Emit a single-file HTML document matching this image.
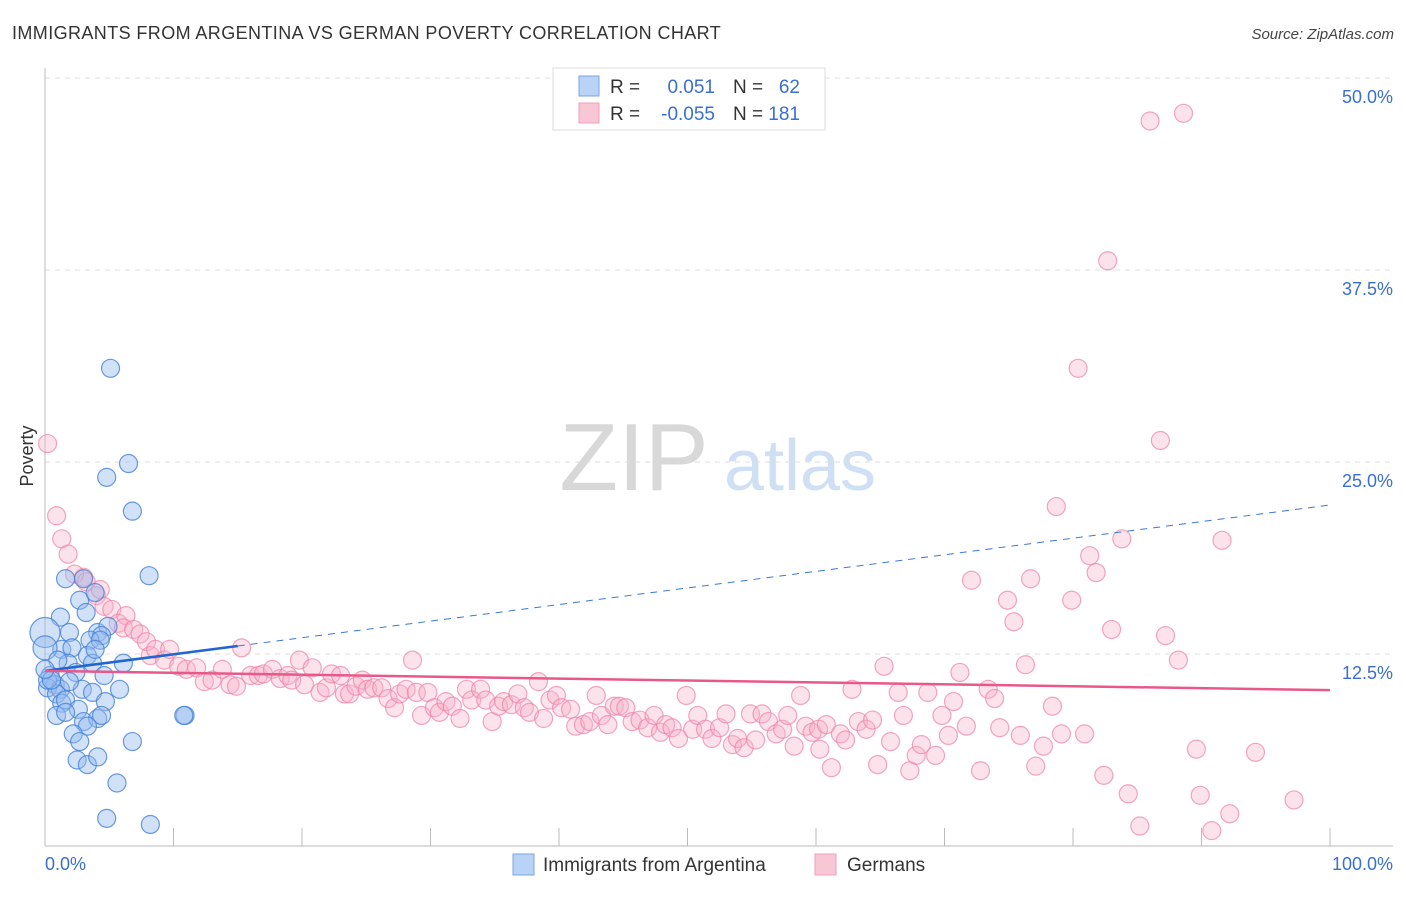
<!DOCTYPE html>
<html><head><meta charset="utf-8"><style>
body{margin:0;background:#fff;font-family:"Liberation Sans",sans-serif;}
svg text{font-family:"Liberation Sans",sans-serif;}
</style></head><body>
<svg id="chart" width="1406" height="892" xmlns="http://www.w3.org/2000/svg">
<text x="12" y="39" font-size="18" fill="#333" letter-spacing="0.4">IMMIGRANTS FROM ARGENTINA VS GERMAN POVERTY CORRELATION CHART</text>
<text x="1394" y="39" font-size="15" fill="#444" text-anchor="end" font-style="italic">Source: ZipAtlas.com</text>
<g>
<text x="634" y="490" font-size="96" fill="#d8d8d8" text-anchor="middle" font-family="Liberation Serif, serif">ZIP</text>
<text x="800" y="490" font-size="72" fill="#cfe0f5" text-anchor="middle">atlas</text>
</g>
<g id="grid"></g>
<g id="axes"></g>
<g id="marks"></g>
<g id="trends"></g>
<text transform="translate(33,456) rotate(-90)" font-size="18" fill="#333" text-anchor="middle">Poverty</text>
<g>
<rect x="553" y="68" width="272" height="62" fill="#fff" stroke="#ddd"/>
<rect x="579" y="76" width="20" height="20" fill="#b8d3f5" stroke="#7aa5e0"/>
<rect x="579" y="103" width="20" height="20" fill="#f9c6d5" stroke="#eea0b8"/>
<text x="610" y="93" font-size="19" fill="#333">R =</text>
<text x="715" y="93" font-size="19" fill="#3a6fd0" text-anchor="end">0.051</text>
<text x="733" y="93" font-size="19" fill="#333">N =</text>
<text x="800" y="93" font-size="19" fill="#3a6fd0" text-anchor="end">62</text>
<text x="610" y="120" font-size="19" fill="#333">R =</text>
<text x="715" y="120" font-size="19" fill="#3a6fd0" text-anchor="end">-0.055</text>
<text x="733" y="120" font-size="19" fill="#333">N =</text>
<text x="800" y="120" font-size="19" fill="#3a6fd0" text-anchor="end">181</text>
</g>
<g>
<rect x="513" y="854" width="21" height="21" fill="#b8d3f5" stroke="#7aa5e0"/>
<text x="543" y="871" font-size="19" fill="#333">Immigrants from Argentina</text>
<rect x="815" y="854" width="21" height="21" fill="#f9c6d5" stroke="#eea0b8"/>
<text x="847" y="871" font-size="19" fill="#333">Germans</text>
</g>
</svg>
<script>
const yTicks=[12.5,25,37.5,50];
const yTickLabels=["12.5%","25.0%","37.5%","50.0%"];
const xTicks=[0,10,20,30,40,50,60,70,80,90,100];
const xTickLabels=["0.0%","100.0%"];
const blueX=[5.1,6.5,4.8,6.8,8.1,1.6,3.0,1.2,2.7,3.9,3.2,1.9,4.1,4.9,4.4,3.5,1.3,2.1,0,0,3.3,1.8,3.7,2.4,6.1,4.6,0.4,0.8,0.2,1.2,0.9,2.9,3.7,1.3,1.6,2.6,4.7,0.9,1.6,3.0,4.1,4.4,3.3,2.2,2.7,6.8,2.5,3.3,4.1,5.6,4.8,8.2,10.9,10.8,0.2,0.5,1.0,1.9,0,4.3,3.9,5.8];
const blueY=[31.1,24.9,24.0,21.8,17.6,17.4,17.4,14.9,16.0,16.5,15.2,13.9,13.9,14.3,13.7,13.4,12.8,12.9,13.9,12.9,12.4,11.9,11.9,11.3,11.9,11.1,11.1,10.5,10.3,10.2,9.9,10.2,10.0,9.3,9.5,8.9,9.4,8.5,8.7,8.1,8.3,8.5,7.8,7.3,6.8,6.8,5.6,5.3,5.8,4.1,1.8,1.4,8.5,8.5,10.8,10.8,12.1,10.7,11.5,13.4,12.8,10.2];
const blueR=[9,9,9,9,9,9,9,9,9,9,9,9,9,9,9,9,9,9,15,12,9,9,9,9,9,9,9,9,9,9,9,9,9,9,9,9,9,9,9,9,9,9,9,9,9,9,9,9,9,9,9,9,9,9,9,9,9,9,9,9,9,9];
const pinkX=[0.2,0.9,1.3,1.8,3.0,2.3,3.2,4.0,4.3,4.6,5.2,5.7,6.3,6.1,6.9,7.4,7.9,8.2,8.6,9.3,9.7,10.4,11.0,11.8,12.4,13.0,13.8,14.4,14.9,15.3,16.0,16.6,17.0,17.7,18.3,18.9,19.2,19.8,20.2,20.8,21.4,21.9,22.3,23.0,23.3,23.7,24.2,24.7,25.1,25.6,26.2,26.7,27.2,27.6,28.1,28.6,28.9,29.3,29.8,30.3,30.7,31.2,31.7,32.3,32.8,33.2,33.9,34.3,34.8,35.3,35.7,36.3,36.8,37.3,37.7,38.4,38.8,39.3,39.8,40.2,40.9,41.3,41.9,42.4,42.9,43.3,43.8,44.3,44.7,45.2,45.7,46.3,46.9,47.4,47.9,48.3,48.8,49.3,49.9,50.4,50.8,51.4,51.9,52.5,53.0,53.5,53.9,54.4,54.9,55.3,55.8,56.3,56.9,57.4,57.8,58.3,58.8,59.2,59.7,60.2,60.3,60.8,61.2,61.9,62.3,62.8,63.3,63.9,64.4,64.8,65.3,65.8,66.4,66.8,67.3,67.8,68.2,68.7,69.3,69.8,70.3,70.7,71.2,71.7,72.1,72.8,73.4,73.9,74.3,74.9,75.4,75.9,76.3,76.7,77.1,77.7,78.4,78.7,79.1,79.9,80.4,80.9,81.3,81.8,82.4,82.7,83.0,83.8,84.3,85.2,86.0,86.8,87.2,88.2,88.6,89.6,89.9,90.8,91.6,92.2,94.2,97.2];
const pinkY=[26.2,21.5,20.0,19.0,17.5,17.7,17.2,16.3,16.7,15.6,15.4,14.5,15.0,14.2,14.1,13.8,13.3,12.4,12.8,12.1,12.8,11.7,11.5,11.6,10.7,10.8,11.5,10.5,10.4,12.9,11.1,11.1,11.2,11.5,10.9,11.1,10.8,12.1,10.5,11.6,10.0,10.3,11.2,11.1,9.9,9.9,10.4,10.8,10.2,10.3,10.3,9.6,9.0,9.9,10.2,12.1,10.0,8.5,10.0,9.0,8.7,9.4,9.1,8.3,10.2,9.5,10.2,9.5,8.1,9.1,9.4,9.2,9.9,9.0,8.7,10.7,8.3,9.5,9.8,9.0,8.9,7.8,7.9,8.1,9.8,8.5,7.9,9.1,9.1,9.0,8.1,8.2,7.7,8.5,7.4,7.9,7.7,7.0,9.8,7.6,8.5,7.6,7.0,7.7,8.6,6.6,7.0,6.4,8.6,6.9,8.6,8.1,7.3,7.6,8.5,6.5,9.8,7.8,7.4,7.6,6.3,7.9,5.1,7.3,6.9,10.2,8.1,7.6,8.2,5.3,11.7,6.8,10.0,8.5,4.9,5.9,6.6,10.0,5.9,8.5,7.2,9.4,11.3,7.8,17.3,4.9,10.2,9.6,7.7,16.0,14.6,7.2,11.8,17.4,5.2,6.5,9.1,22.1,7.3,16.0,31.1,7.3,18.9,17.8,4.6,38.1,14.1,20.0,3.4,1.3,47.2,26.4,13.7,12.1,47.7,6.3,3.3,1.0,19.9,2.1,6.1,3.0];
const blueTrend=[11.4,0.108]; // intercept, slope per %
const pinkTrend=[11.4,-0.0125];
const blueSolidEnd=15;

const X0=45,X1=1330,Y0=846,Y1=78;
const sx=v=>X0+(X1-X0)*v/100;
const sy=v=>Y0-(Y0-Y1)*v/50;
const NS="http://www.w3.org/2000/svg";
function mk(tag,attrs,parent){const e=document.createElementNS(NS,tag);for(const k in attrs)e.setAttribute(k,attrs[k]);parent.appendChild(e);return e;}
const grid=document.getElementById('grid'),axes=document.getElementById('axes'),marks=document.getElementById('marks'),trends=document.getElementById('trends');
yTicks.forEach((t,i)=>{
  const l=mk('line',{x1:X0,x2:1393,y1:sy(t),y2:sy(t),stroke:'#ddd','stroke-dasharray':'5,5'},grid);
  
  
  const tx=mk('text',{x:1393,y:sy(t)+25,'font-size':18,fill:'#3a6fd0','text-anchor':'end'},axes);
  tx.textContent=yTickLabels[i];
  
  
});
const ax=mk('line',{x1:X0,x2:X0,y1:68,y2:Y0,stroke:'#bbb'},axes);


const bx=mk('line',{x1:X0,x2:1393,y1:Y0,y2:Y0,stroke:'#bbb'},axes);


xTicks.forEach(t=>{
  const l=mk('line',{x1:sx(t),x2:sx(t),y1:Y0-18,y2:Y0,stroke:'#bbb'},axes);
  
  
});
const xl0=mk('text',{x:X0,y:870,'font-size':18,fill:'#3a6fd0'},axes);xl0.textContent=xTickLabels[0];


const xl1=mk('text',{x:1393,y:870,'font-size':18,fill:'#3a6fd0','text-anchor':'end'},axes);xl1.textContent=xTickLabels[1];


pinkX.forEach((v,i)=>{
  const c=mk('circle',{cx:sx(v),cy:sy(pinkY[i]),r:9,fill:'rgba(248,178,200,0.38)',stroke:'rgba(236,130,165,0.7)','stroke-width':1.2},marks);
  
  
});
blueX.forEach((v,i)=>{
  const c=mk('circle',{cx:sx(v),cy:sy(blueY[i]),r:blueR[i],fill:'rgba(150,188,240,0.45)',stroke:'rgba(70,130,215,0.8)','stroke-width':1.2},marks);
  
  
});
const bt=v=>blueTrend[0]+blueTrend[1]*v, pt=v=>pinkTrend[0]+pinkTrend[1]*v;
const d1=mk('line',{x1:sx(blueSolidEnd),y1:sy(bt(blueSolidEnd)),x2:sx(100),y2:sy(bt(100)),stroke:'#3a78d8','stroke-width':1,'stroke-dasharray':'7,6'},trends);


const s1=mk('line',{x1:sx(0),y1:sy(bt(0)),x2:sx(blueSolidEnd),y2:sy(bt(blueSolidEnd)),stroke:'#1f66d0','stroke-width':2.5},trends);


const p1=mk('line',{x1:sx(0),y1:sy(pt(0)),x2:sx(100),y2:sy(pt(100)),stroke:'#e8588a','stroke-width':2.5},trends);


</script>
</body></html>
